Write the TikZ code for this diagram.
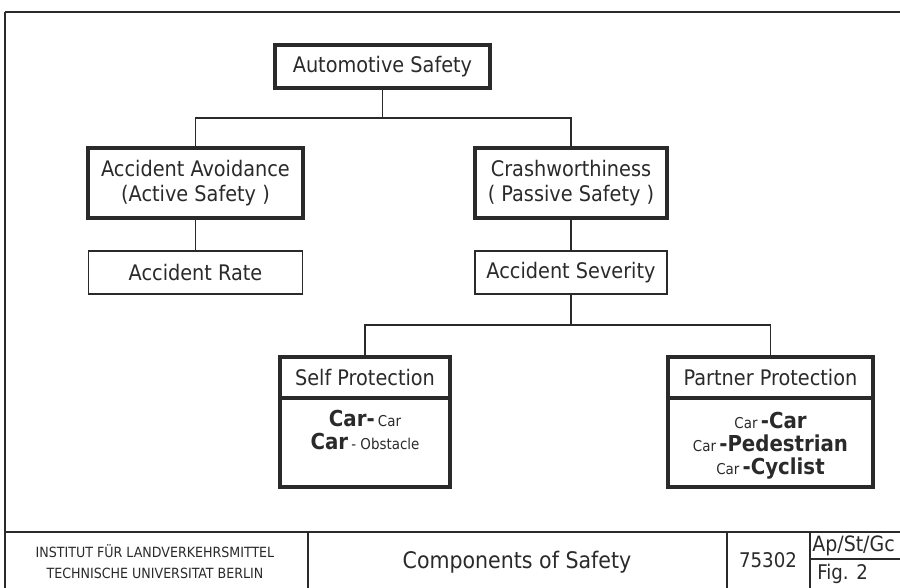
\documentclass[tikz,border=0pt]{standalone}
\usepackage{fontspec}
\setmainfont{DejaVu Sans Condensed}
\usepackage{tikz}
\definecolor{ink}{HTML}{2A2A2A}
\tikzset{
    box/.style={draw=ink, text=ink, align=center, inner sep=0pt, outer sep=0pt,
        minimum height=0.86cm, font=\fontsize{12.2}{14.5}\selectfont},
    thickbox/.style={box, line width=1.9pt},
    thinbox/.style={box, line width=1pt},
    bodytext/.style={text=ink, align=center, inner sep=0pt, font=\fontsize{11}{13}\selectfont},
    link/.style={draw=ink, line width=0.8pt},
    frame/.style={draw=ink, line width=1.1pt},
    label/.style={text=ink, inner sep=0pt}}
\newcommand{\bigpart}[1]{{\fontsize{12.5}{13}\selectfont\bfseries #1}}
\newcommand{\smallpart}[1]{{\fontsize{8.5}{13}\selectfont #1}}

\begin{document}
\begin{tikzpicture}[x=0.02cm, y=-0.02cm]
        \useasboundingbox (0,0) rectangle (900,588);
        \clip (0,0) rectangle (900,588);

                    \node[thickbox, minimum width=4.3cm] (auto) at (382.5,66.5) {Automotive Safety};
                    \node[thickbox, minimum width=4.3cm, minimum height=1.4cm] (avoid) at (195.5,183) {Accident Avoidance\\(Active Safety )};
                    \node[thickbox, minimum width=3.84cm, minimum height=1.4cm] (crash) at (571,183) {Crashworthiness\\( Passive Safety )};
                    \node[thinbox, minimum width=4.28cm] (rate) at (195.5,272.5) {Accident Rate};
                    \node[thinbox, minimum width=3.84cm] (sever) at (571,272.5) {Accident Severity};

                    \node[thickbox, minimum width=3.4cm, minimum height=0.82cm] (selfhead) at (365,377.5) {Self Protection};
                    \node[thickbox, minimum width=3.4cm, minimum height=1.78cm] (selfbody) at (365,442.5) {};
                    \node[bodytext, anchor=north] (selftext) at (365,410) {\bigpart{Car-}\,\smallpart{Car}\\\bigpart{Car}\,\smallpart{- Obstacle}};
                    \node[thickbox, minimum width=4.1cm, minimum height=0.82cm] (parthead) at (770.5,377.5) {Partner Protection};
                    \node[thickbox, minimum width=4.1cm, minimum height=1.78cm] (partbody) at (770.5,442.5) {};
                    \node[bodytext, anchor=north] (parttext) at (770.5,412) {\smallpart{Car}\,\bigpart{-Car}\\\smallpart{Car}\,\bigpart{-Pedestrian}\\\smallpart{Car}\,\bigpart{-Cyclist}};

                    \coordinate (j1) at (382.5,118);
                    \coordinate (j2) at (571,325);
                    \draw[link] (auto) -- (j1);
                    \draw[link] (j1) -| (avoid);
                    \draw[link] (j1) -| (crash);
                    \draw[link] (avoid) -- (rate);
                    \draw[link] (crash) -- (sever);
                    \draw[link] (sever) -- (j2);
                    \draw[link] (j2) -| (selfhead);
                    \draw[link] (j2) -| (parthead);

                    % drawing frame and title block
                    \draw[frame] (5,12) -- (900,12);
                    \draw[frame] (5,12) -- (5,588);
                    \draw[frame] (5,532) -- (900,532);
                    \draw[frame] (308,532) -- (308,588);
                    \draw[frame] (727,532) -- (727,588);
                    \draw[frame] (810,532) -- (810,588);
                    \draw[frame] (810,559) -- (900,559);

                    \node[label, align=center, font=\fontsize{8}{12}\selectfont] (inst) at (155,562) {INSTITUT FÜR LANDVERKEHRSMITTEL\\TECHNISCHE UNIVERSITAT BERLIN};
                    \node[label, font=\fontsize{13}{14}\selectfont] (title) at (517,562) {Components of Safety};
                    \node[label, font=\fontsize{11.5}{14}\selectfont] (number) at (768,560) {75302};
                    \node[label, anchor=west, font=\fontsize{12}{12}\selectfont] (sign) at (812,546) {Ap/St/Gc};
                    \node[label, anchor=west, font=\fontsize{11.5}{12}\selectfont] (fig) at (817,574) {Fig. 2};

                \end{tikzpicture}
\end{document}
